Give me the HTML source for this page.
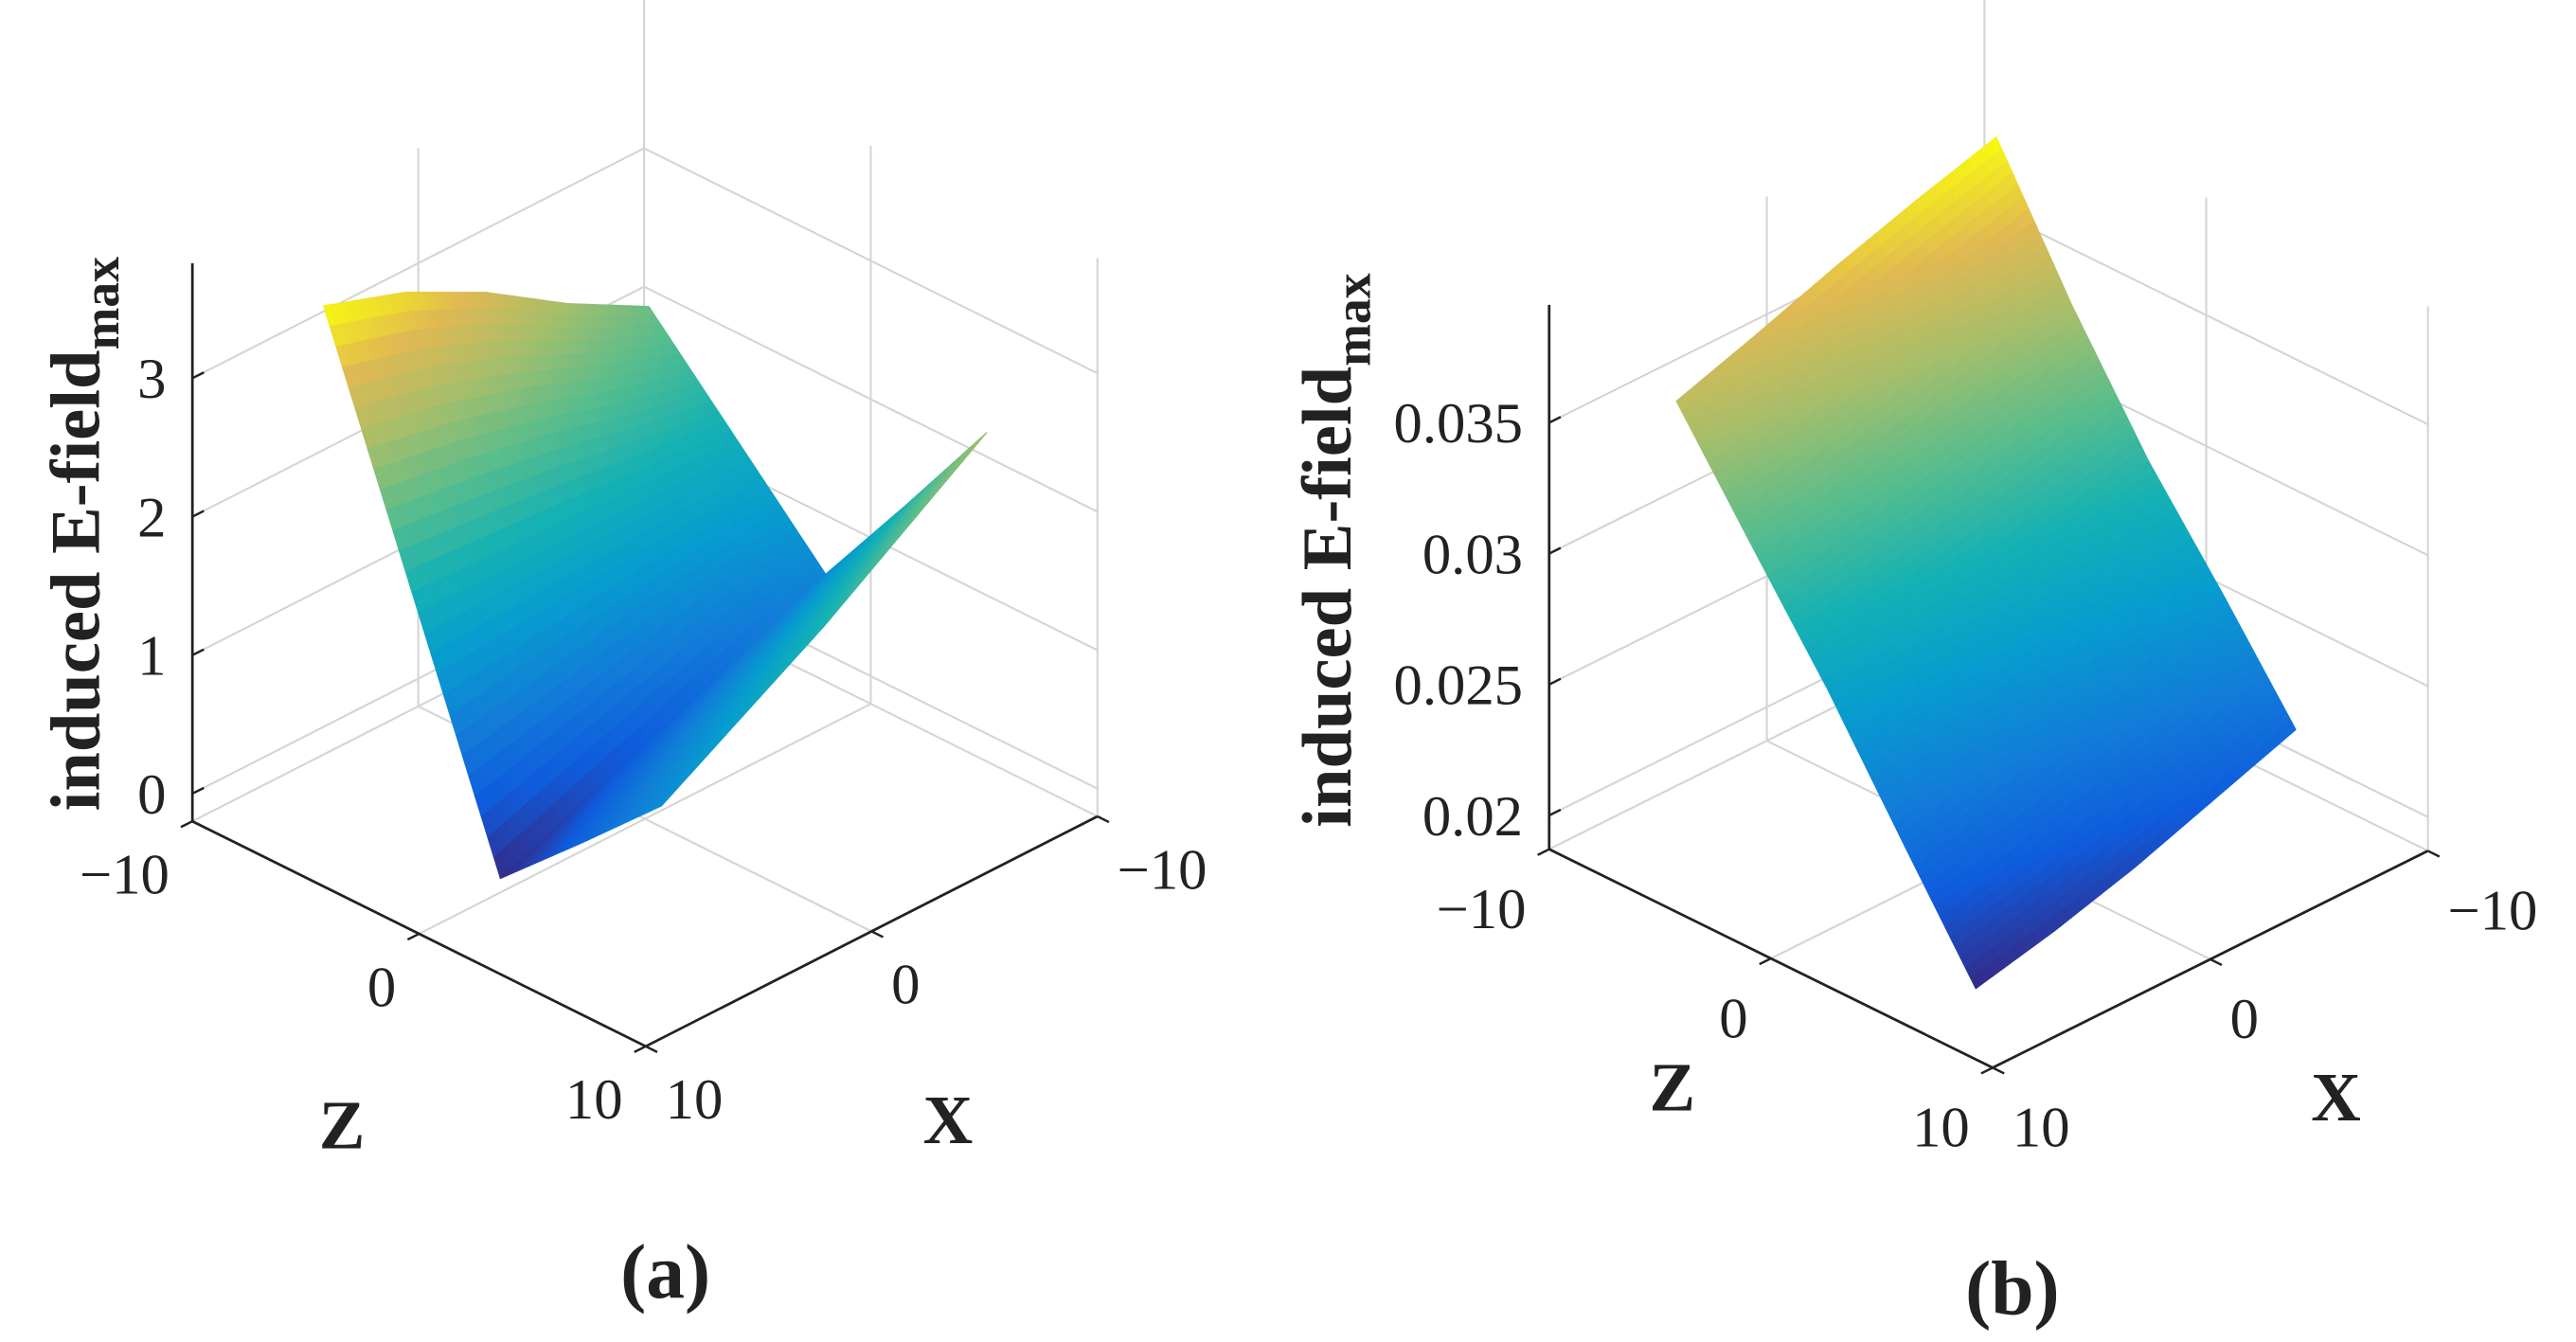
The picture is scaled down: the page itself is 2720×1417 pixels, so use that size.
<!DOCTYPE html>
<html><head><meta charset="utf-8"><style>
html,body{margin:0;padding:0;background:#fff;}
svg{display:block;}
text{font-family:"Liberation Serif","DejaVu Serif",serif;fill:#222;}
</style></head><body>
<svg id="fig" width="2720" height="1417" viewBox="0 0 1568 817" xmlns="http://www.w3.org/2000/svg">
<g id="panelA"></g>
<g id="panelB"></g>
</svg>
<script>
// ---- Panel (a) data ----
const xGridA = [-7.4, -3.8, -0.2, 3.4, 7.0];
const zGridA = [-7.2, -3.3, 0.6, 4.2, 7.7];
const valuesA = [
  [2.3, 2.62, 3.0, 3.3, 3.5],
  [1.65, 1.67, 1.7, 1.72, 1.75],
  [1.0, 0.75, 0.5, 0.25, 0.0],
  [1.8, 1.45, 1.15, 0.85, 0.55],
  [2.6, 2.2, 1.8, 1.45, 1.1]
];
const vTicksA = [0, 1, 2, 3];
const vTickLabelsA = ["0", "1", "2", "3"];
// ---- Panel (b) data ----
const xGridB = [-8.0, -4.3, -0.6, 3.1, 6.7];
const zGridB = [-7.5, -4.1, -0.65, 2.8, 6.0];
const valuesB = [
  [0.0395, 0.0386, 0.0376, 0.0365, 0.0355],
  [0.0345, 0.0336, 0.0328, 0.0320, 0.0314],
  [0.0300, 0.0292, 0.0285, 0.0279, 0.0273],
  [0.0262, 0.0252, 0.0243, 0.0236, 0.0228],
  [0.0225, 0.0214, 0.0203, 0.0194, 0.0187]
];
const vTicksB = [0.02, 0.025, 0.03, 0.035];
const vTickLabelsB = ["0.02", "0.025", "0.03", "0.035"];
const hTicks = [-10, 0, 10];
const hTickLabels = ["\u221210", "0", "10"];

const NS = "http://www.w3.org/2000/svg";
const parulaStops = [
  [53,42,135],[15,92,221],[18,125,216],[7,156,207],[21,177,180],
  [89,189,140],[165,190,107],[225,185,82],[249,251,14]
];
function parula(t){
  t = Math.max(0, Math.min(1, t));
  const f = t*(parulaStops.length-1), i = Math.min(Math.floor(f), parulaStops.length-2), r = f-i;
  const a = parulaStops[i], b = parulaStops[i+1];
  return "rgb(" + [0,1,2].map(k => Math.round(a[k]+(b[k]-a[k])*r)).join(",") + ")";
}
function mk(parent, tag, attrs){
  const e = document.createElementNS(NS, tag);
  for (const k in attrs) e.setAttribute(k, attrs[k]);
  parent.appendChild(e);
  return e;
}
function makeAxes(cfg){
  return function P(x, z, v){
    const a = (10 - z)/20, b = (10 - x)/20;
    return [cfg.O[0] + a*cfg.Zd[0] + b*cfg.Xd[0],
            cfg.O[1] + a*cfg.Zd[1] + b*cfg.Xd[1] - (v - cfg.vmin)*cfg.k];
  };
}
function line(g, p, q, stroke, w, name){
  const l = mk(g, "line", {x1:p[0], y1:p[1], x2:q[0], y2:q[1], stroke:stroke, "stroke-width":w});
  
  
  return l;
}
function txt(g, x, y, s, size, anchor, bold, name){
  const t = mk(g, "text", {x:x, y:y, "font-size":size, "text-anchor":anchor});
  if (bold) t.setAttribute("font-weight", "bold");
  t.textContent = s;
  
  
  return t;
}
function drawPanel(g, cfg, xs, zs, vals, vt, vtl){
  const P = makeAxes(cfg);
  const vmin = cfg.vmin, vmax = cfg.vmax, gc = "#d4d4d4";
  line(g, P(-10,-10,vmin), P(-10,-10,vmax+0.35*(vmax-vmin)), gc, 1.2, "grid-back-corner");
  line(g, P(0,-10,vmin), P(0,-10,vmax), gc, 1.2, "grid-wall-x0");
  line(g, P(-10,0,vmin), P(-10,0,vmax), gc, 1.2, "grid-wall-z0");
  line(g, P(-10,10,vmin), P(-10,10,vmax), gc, 1.2, "grid-right-edge");
  line(g, P(10,-10,vmin), P(-10,-10,vmin), gc, 1.2, "grid-floor-back-left");
  line(g, P(-10,-10,vmin), P(-10,10,vmin), gc, 1.2, "grid-floor-back-right");
  line(g, P(0,-10,vmin), P(0,10,vmin), gc, 1.2, "grid-floor-x0");
  line(g, P(10,0,vmin), P(-10,0,vmin), gc, 1.2, "grid-floor-z0");
  vt.forEach((v,i) => {
    line(g, P(10,-10,v), P(-10,-10,v), gc, 1.2, "grid-v-left-" + i);
    line(g, P(-10,-10,v), P(-10,10,v), gc, 1.2, "grid-v-right-" + i);
  });
  let dmin = Infinity, dmax = -Infinity;
  vals.forEach(r => r.forEach(v => { dmin = Math.min(dmin, v); dmax = Math.max(dmax, v); }));
  const N = 14, quads = [];
  for (let i = 0; i < zs.length-1; i++) for (let j = 0; j < xs.length-1; j++){
    for (let s = 0; s < N; s++) for (let t = 0; t < N; t++){
      const pts = [[s,t],[s+1,t],[s+1,t+1],[s,t+1]].map(([ss,tt]) => {
        const u = ss/N, w = tt/N;
        const z = zs[i] + (zs[i+1]-zs[i])*u, x = xs[j] + (xs[j+1]-xs[j])*w;
        const v = vals[i][j]*(1-u)*(1-w) + vals[i+1][j]*u*(1-w) + vals[i][j+1]*(1-u)*w + vals[i+1][j+1]*u*w;
        return {x:x, z:z, v:v};
      });
      const vm = pts.reduce((a,p)=>a+p.v,0)/4;
      const depth = pts.reduce((a,p)=>a+p.x+p.z,0)/4;
      quads.push({pts:pts, vm:vm, depth:depth});
    }
  }
  quads.sort((a,b) => a.depth - b.depth);
  const sg = mk(g, "g", {});
  
  
  quads.forEach(q => {
    const c = parula((q.vm - dmin)/(dmax - dmin));
    const pl = mk(sg, "polygon", {points: q.pts.map(p => P(p.x,p.z,p.v).map(n=>n.toFixed(2)).join(",")).join(" "),
      fill:c, stroke:c, "stroke-width":0.7, "stroke-linejoin":"round"});
    
    
  });
  line(g, P(10,-10,vmin), P(10,-10,vmax), "#222", 1.6, "v-axis");
  line(g, P(10,-10,vmin), P(10,10,vmin), "#222", 1.6, "z-axis");
  line(g, P(10,10,vmin), P(-10,10,vmin), "#222", 1.6, "x-axis");
  vt.forEach((v,i) => {
    const p = P(10,-10,v);
    line(g, p, [p[0]+7, p[1]-3.5], "#222", 1.4, "v-tick");
    txt(g, p[0]-16, p[1]+12, vtl[i], 35, "end", false, "v-tick-label");
  });
  hTicks.forEach((h,i) => {
    const pz = P(10,h,vmin);
    line(g, pz, [pz[0]-7, pz[1]+3.5], "#222", 1.4, "z-tick");
    txt(g, pz[0]-14, pz[1]+cfg.lo, hTickLabels[i], 35, "end", false, "z-tick-label");
    const px = P(h,10,vmin);
    line(g, px, [px[0]+7, px[1]+3.5], "#222", 1.4, "x-tick");
    txt(g, px[0]+12, px[1]+cfg.lo, hTickLabels[i], 35, "start", false, "x-tick-label");
  });
  txt(g, cfg.zt[0], cfg.zt[1], "Z", 42, "middle", true, "z-axis-title");
  txt(g, cfg.xt[0], cfg.xt[1], "X", 42, "middle", true, "x-axis-title");
  const yl = mk(g, "text", {x:0, y:0, "font-size":43, "font-weight":"bold", "text-anchor":"middle",
    transform:"translate(" + cfg.yl[0] + "," + cfg.yl[1] + ") rotate(-90)"});
  
  
  yl.appendChild(document.createTextNode("induced E-field"));
  const sub = mk(yl, "tspan", {"font-size":31, dy:12});
  sub.textContent = "max";
  txt(g, cfg.cap[0], cfg.cap[1], cfg.capText, 47, "middle", true, "panel-caption");
}
drawPanel(document.getElementById("panelA"),
  {O:[393,637], Zd:[-276,-137], Xd:[275,-140], vmin:-0.2, vmax:3.83, k:84.3, lo:44,
   zt:[208,699], xt:[577,696], yl:[60,325], cap:[405,790], capText:"(a)"},
  xGridA, zGridA, valuesA, vTicksA, vTickLabelsA);
drawPanel(document.getElementById("panelB"),
  {O:[1213,650], Zd:[-270,-133], Xd:[265,-132], vmin:0.01871, vmax:0.0395, k:15940, lo:48,
   zt:[1018,676], xt:[1422,682], yl:[822,335], cap:[1225,800], capText:"(b)"},
  xGridB, zGridB, valuesB, vTicksB, vTickLabelsB);
</script>
</body></html>
